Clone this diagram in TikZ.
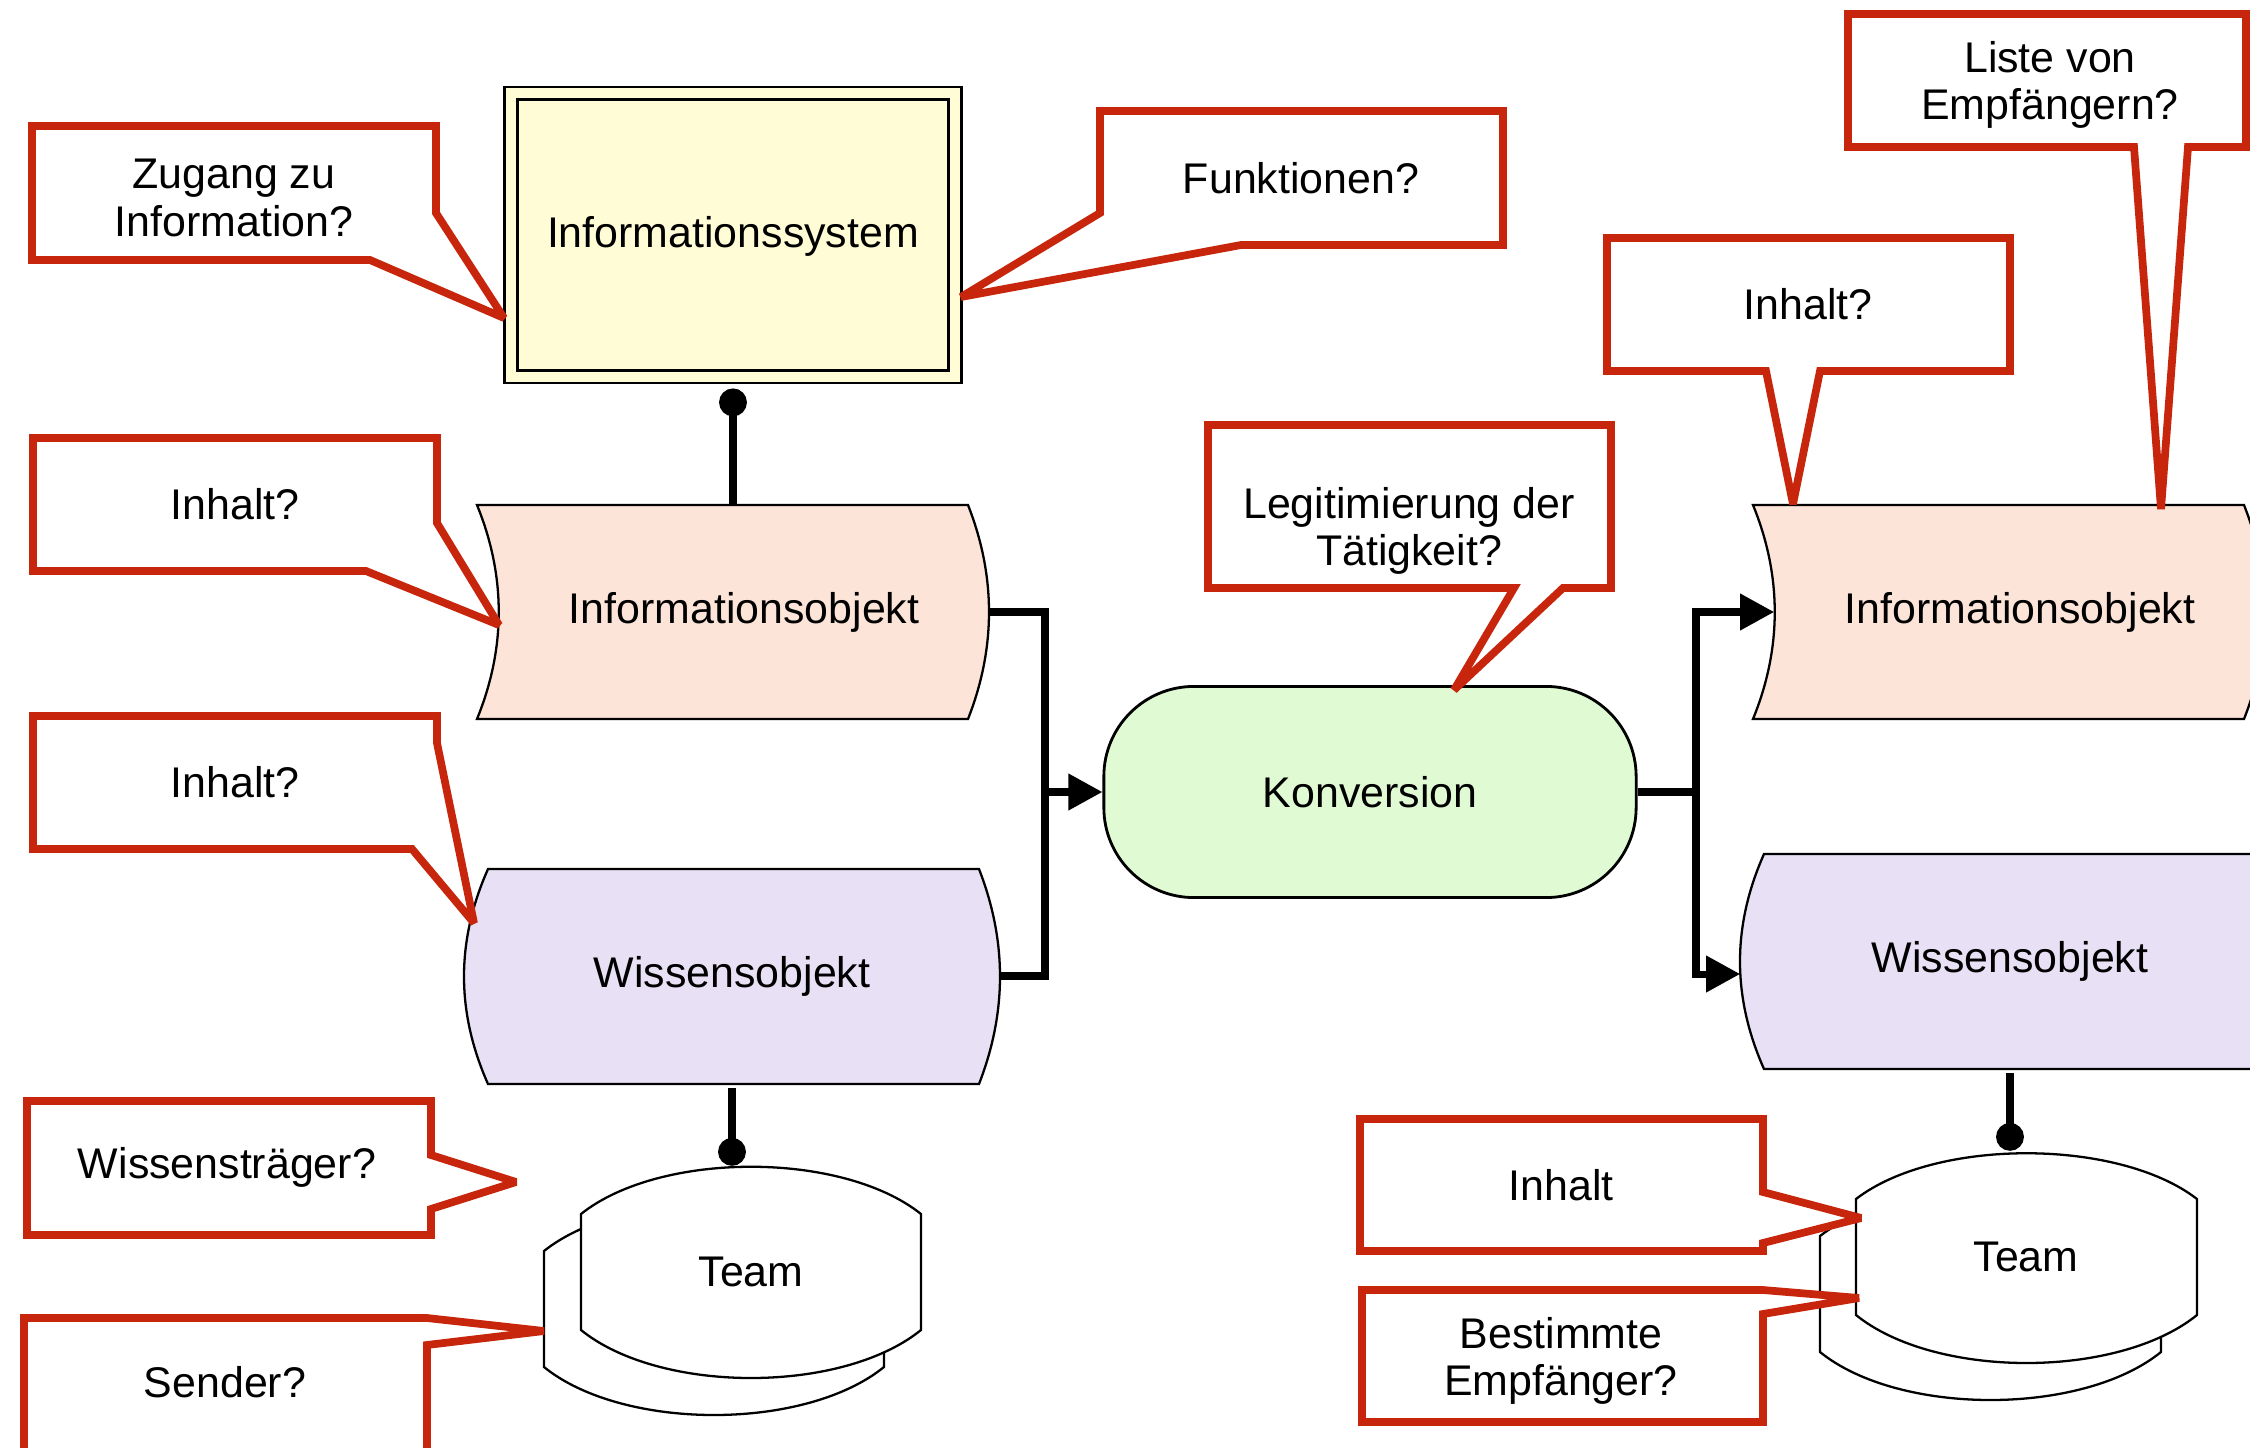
\documentclass[tikz,border=0pt]{standalone}
\usepackage{fontspec}
\setmainfont{Liberation Sans}
\usetikzlibrary{arrows.meta}

\definecolor{calloutred}{RGB}{200,38,12}
\definecolor{sysyellow}{RGB}{255,252,214}
\definecolor{infosalmon}{RGB}{253,228,216}
\definecolor{wissenlila}{RGB}{232,224,244}
\definecolor{konvgreen}{RGB}{224,251,212}

\tikzset{
  lbl/.style={font=\fontsize{12.2}{13.5}\selectfont,align=center,inner sep=0pt},
  objline/.style={draw=black,line width=0.65pt},
  sysbox/.style={lbl,rectangle,draw=black,line width=0.8pt,fill=sysyellow},
  convbox/.style={lbl,rectangle,rounded corners=0.9cm,draw=black,line width=0.8pt,fill=konvgreen},
  callout/.style={draw=calloutred,line width=2.2pt,fill=white,line join=miter,miter limit=3},
  link/.style={line width=2pt},
  flow/.style={link,-{Triangle[length=9.7pt,width=10pt]}},
  dotlink/.style={link,-{Circle[length=7.9pt]}},
}

\begin{document}
\begin{tikzpicture}[x=0.01cm,y=-0.01cm]
\useasboundingbox (0,0) rectangle (2250,1448);
\clip (0,0) rectangle (2250,1448);

% Informationssystem
\node[sysbox,minimum width=4.56cm,minimum height=2.96cm,text depth=0.06cm] (isys) at (733,235) {Informationssystem};
\draw[objline] ([shift={(14,14)}]isys.north west) rectangle ([shift={(-14,-14)}]isys.south east);

% Objekte links
\path[objline,fill=infosalmon] (477,505) -- (968,505) .. controls (996,576) and (996,648) .. (968,719)
  -- (477,719) .. controls (506,648) and (506,576) .. (477,505) -- cycle;
\node[lbl,minimum width=4.90cm,minimum height=2.14cm] (io1) at (744,612) {Informationsobjekt};
\path[objline,fill=wissenlila] (488,869) -- (979,869) .. controls (1007,941) and (1007,1012) .. (979,1084)
  -- (488,1084) .. controls (456,1012) and (456,941) .. (488,869) -- cycle;
\node[lbl,minimum width=5.36cm,minimum height=2.15cm] (wo1) at (732,976) {Wissensobjekt};

% Team links
\path[objline,fill=white] (544,1251) .. controls (623,1188) and (805,1188) .. (884,1251)
  -- (884,1367) .. controls (805,1431) and (623,1431) .. (544,1367) -- cycle;
\path[objline,fill=white] (581,1214) .. controls (660,1151) and (842,1151) .. (921,1214)
  -- (921,1330) .. controls (842,1394) and (660,1394) .. (581,1330) -- cycle;
\node[lbl,minimum width=3.40cm,minimum height=2.11cm] (team1) at (751,1272) {Team};

% Konversion
\node[convbox,minimum width=5.32cm,minimum height=2.11cm] (kv) at (1370,792) {Konversion};

% Objekte rechts
\path[objline,fill=infosalmon] (1753,505) -- (2244,505) .. controls (2272,576) and (2272,648) .. (2244,719)
  -- (1753,719) .. controls (1782,648) and (1782,576) .. (1753,505) -- cycle;
\node[lbl,minimum width=4.90cm,minimum height=2.14cm] (io2) at (2020,612) {Informationsobjekt};
\path[objline,fill=wissenlila] (1764,854) -- (2255,854) .. controls (2283,926) and (2283,997) .. (2255,1069)
  -- (1764,1069) .. controls (1732,997) and (1732,926) .. (1764,854) -- cycle;
\node[lbl,minimum width=5.38cm,minimum height=2.15cm] (wo2) at (2010,961) {Wissensobjekt};

% Team rechts
\path[objline,fill=white] (1820,1236) .. controls (1899,1175) and (2082,1175) .. (2161,1236)
  -- (2161,1352) .. controls (2082,1416) and (1899,1416) .. (1820,1352) -- cycle;
\path[objline,fill=white] (1856,1199) .. controls (1935,1138) and (2118,1138) .. (2197,1199)
  -- (2197,1315) .. controls (2118,1379) and (1935,1379) .. (1856,1315) -- cycle;
\node[lbl,minimum width=3.41cm,minimum height=2.11cm] (team2) at (2026,1257) {Team};

% Verbindungen
\coordinate (jl) at (1045,792);
\coordinate (jr) at (1696,792);
\draw[dotlink,shorten >=0.04cm] (isys.south |- io1.north) -- (isys.south);
\draw[dotlink,shorten <=0.04cm] (wo1.south) -- (wo1.south |- team1.north);
\draw[dotlink,shorten <=0.04cm] (wo2.south) -- (wo2.south |- team2.north);
\draw[link] (io1.east) -| (jl);
\draw[link] (wo1.east) -| (jl);
\draw[flow] (jl) -- (kv.west);
\draw[link] (kv.east) -- (jr);
\draw[flow] (jr) |- (io2.west);
\draw[flow] (jr) |- ([yshift=-0.13cm]wo2.west);

% Sprechblasen
\draw[callout] (32,126) -- (436,126) -- (436,213) -- (504,318) -- (370,260) -- (32,260) -- cycle;
\node[lbl] (zugang) at (234,198) {Zugang zu\\Information?};
\draw[callout] (1100,111) -- (1503,111) -- (1503,245) -- (1241,245) -- (961,297) -- (1100,213) -- cycle;
\node[lbl] (funkt) at (1301,178) {Funktionen?};
\draw[callout] (33,438) -- (437,438) -- (437,523) -- (499,625) -- (366,571) -- (33,571) -- cycle;
\node[lbl] (inhalta) at (235,504) {Inhalt?};
\draw[callout] (33,716) -- (437,716) -- (437,743) -- (474,923) -- (412,849) -- (33,849) -- cycle;
\node[lbl] (inhaltb) at (235,782) {Inhalt?};
\draw[callout] (27,1101) -- (431,1101) -- (431,1155) -- (516,1182) -- (431,1209) -- (431,1235) -- (27,1235) -- cycle;
\node[lbl] (traeger) at (227,1167) {Wissensträger?};
\draw[callout] (24,1318) -- (427,1318) -- (544,1331) -- (427,1345) -- (427,1470) -- (24,1470) -- cycle;
\node[lbl] (sender) at (225,1382) {Sender?};
\draw[callout] (1208,425) -- (1611,425) -- (1611,588) -- (1563,588) -- (1454,690) -- (1514,588) -- (1208,588) -- cycle;
\node[lbl] (legit) at (1409,531) {Legitimierung der\\Tätigkeit?};
\draw[callout] (1607,238) -- (2010,238) -- (2010,371) -- (1820,371) -- (1793,504) -- (1766,371) -- (1607,371) -- cycle;
\node[lbl] (inhaltc) at (1808,304) {Inhalt?};
\draw[callout] (1848,14) -- (2246,14) -- (2246,147) -- (2188,147) -- (2161,509) -- (2134,147) -- (1848,147) -- cycle;
\node[lbl] (liste) at (2050,85) {Liste von\\Empfängern?};
\draw[callout] (1360,1119) -- (1763,1119) -- (1763,1192) -- (1861,1218) -- (1763,1243) -- (1763,1251) -- (1360,1251) -- cycle;
\node[lbl] (inhaltd) at (1561,1185) {Inhalt};
\draw[callout] (1362,1290) -- (1763,1290) -- (1859,1298) -- (1763,1314) -- (1763,1422) -- (1362,1422) -- cycle;
\node[lbl] (empf) at (1561,1361) {Bestimmte\\Empfänger?};
\end{tikzpicture}
\end{document}
